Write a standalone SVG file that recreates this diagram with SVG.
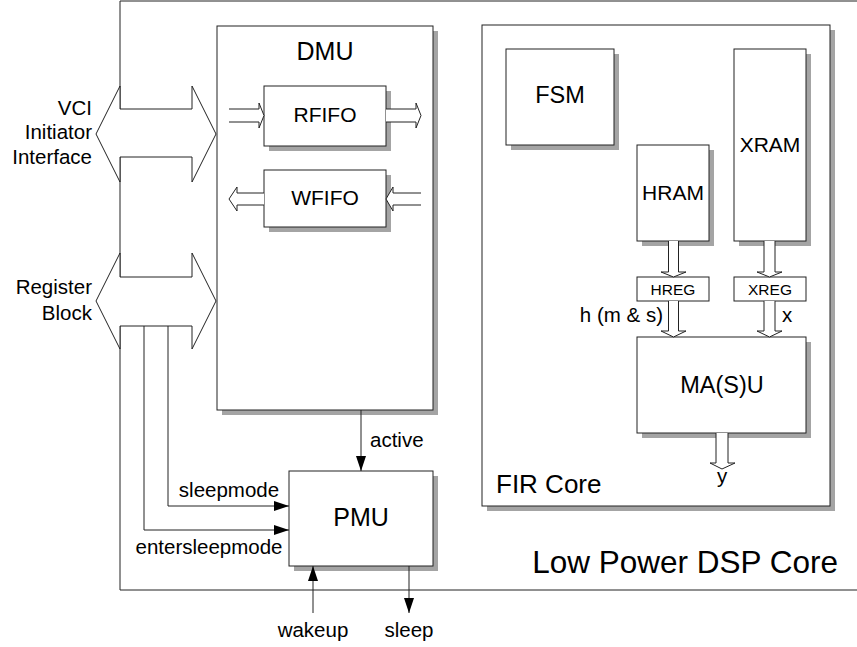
<svg xmlns="http://www.w3.org/2000/svg" width="857" height="647" viewBox="0 0 857 647">
<style>
text{font-family:"Liberation Sans",Arial,sans-serif;fill:#000}
.box{fill:#fff;stroke:#222;stroke-width:1}
.sh{fill:#a4a4a4}
.ln{fill:none;stroke:#222;stroke-width:1}
.ha{fill:#fff;stroke:#222;stroke-width:1}
.lbl{font-size:20.5px}
.c{text-anchor:middle}
</style>
<defs>
<marker id="ah" markerUnits="userSpaceOnUse" markerWidth="16" markerHeight="12" refX="15" refY="5" orient="auto">
<path d="M0,0 L15,5 L0,10 z" fill="#000"/>
</marker>
</defs>
<rect width="857" height="647" fill="#fff"/>

<g id="lowpower">
<path class="ln" d="M857,1 H120 V110 M120,157 V277 M120,326 V590 H857"/>
<text x="838" y="573" font-size="31.5" text-anchor="end">Low Power DSP Core</text>
</g>

<g id="vci">
<polygon class="ha" points="96,134 120,86 120,109 192,109 192,86 216,134 192,182 192,157 120,157 120,182"/>
<text class="lbl" x="92" y="115" text-anchor="end">VCI</text>
<text class="lbl" x="92" y="139" text-anchor="end">Initiator</text>
<text class="lbl" x="92" y="164" text-anchor="end">Interface</text>
</g>

<g id="regblock">
<polygon class="ha" points="96,301 120,253 120,277 192,277 192,253 216,301 192,349 192,326 120,326 120,349"/>
<text class="lbl" x="92" y="294" text-anchor="end">Register</text>
<text class="lbl" x="92" y="320" text-anchor="end">Block</text>
</g>

<g id="dmu">
<rect class="sh" x="222" y="31" width="216" height="384"/>
<rect class="box" x="217" y="26" width="216" height="384"/>
<text x="325" y="60" font-size="25" class="c">DMU</text>
</g>

<g id="rfifo">
<rect class="sh" x="269" y="91" width="122" height="60"/>
<rect class="box" x="264" y="86" width="122" height="60"/>
<text x="325" y="122" font-size="21" class="c">RFIFO</text>
</g>

<g id="wfifo">
<rect class="sh" x="269" y="175" width="122" height="57"/>
<rect class="box" x="264" y="170" width="122" height="57"/>
<text x="325" y="205" font-size="21" class="c">WFIFO</text>
</g>

<g id="pmu">
<rect class="sh" x="294" y="476" width="144" height="95"/>
<rect class="box" x="289" y="471" width="144" height="95"/>
<text x="361" y="526" font-size="25" class="c">PMU</text>
</g>

<g id="fircore">
<rect class="sh" x="487" y="30" width="348" height="481"/>
<rect class="box" x="482" y="25" width="348" height="481"/>
<text x="496" y="493" font-size="26">FIR Core</text>
</g>

<g id="fsm">
<rect class="sh" x="511" y="54" width="108" height="96"/>
<rect class="box" x="506" y="49" width="108" height="96"/>
<text x="560" y="103" font-size="23.5" class="c">FSM</text>
</g>

<g id="hram">
<rect class="sh" x="642" y="150" width="72" height="96"/>
<rect class="box" x="637" y="145" width="72" height="96"/>
<text x="673" y="200" font-size="21" class="c">HRAM</text>
</g>

<g id="xram">
<rect class="sh" x="739" y="54" width="72" height="192"/>
<rect class="box" x="734" y="49" width="72" height="192"/>
<text x="770" y="152" font-size="21" class="c">XRAM</text>
</g>

<g id="hreg">
<rect class="box" x="637" y="277" width="72" height="24"/>
<text x="673" y="295" font-size="15.5" class="c">HREG</text>
</g>

<g id="xreg">
<rect class="box" x="734" y="277" width="72" height="24"/>
<text x="770" y="295" font-size="15.5" class="c">XREG</text>
</g>

<g id="masu">
<rect class="sh" x="642" y="342" width="169" height="96"/>
<rect class="box" x="637" y="337" width="169" height="96"/>
<text x="722" y="393" font-size="23.5" class="c">MA(S)U</text>
</g>

<g id="connectors">
<!-- FIFO hollow arrows -->
<path class="ha" d="M229,109 H259 V103 L264,115.5 L259,128 V122 H229"/>
<path class="ha" d="M386,109 H416 V103 L421,115.5 L416,128 V122 H386"/>
<path class="ha" d="M264,193 H237 V187 L229,199 L237,211 V205 H264"/>
<path class="ha" d="M421,193 H393 V187 L386,199 L393,211 V205 H421"/>
<!-- FIR hollow arrows -->
<path class="ha" d="M668.5,241 V272 H661 L673.5,277 L686,272 H678.5 V241"/>
<path class="ha" d="M764,241 V272 H757 L769.5,277 L782,272 H775 V241"/>
<path class="ha" d="M668.5,301 V331 H661 L673.5,337 L686,331 H678.5 V301"/>
<path class="ha" d="M764,301 V331 H757 L769.5,337 L782,331 H775 V301"/>
<path class="ha" d="M716,433 V463 H710 L722,469 L735,463 H728 V433"/>
<!-- signal lines -->
<path class="ln" d="M168,326 V506 H289" marker-end="url(#ah)"/>
<path class="ln" d="M144,326 V530 H289" marker-end="url(#ah)"/>
<path class="ln" d="M361,410 V471" marker-end="url(#ah)"/>
<path class="ln" d="M313,613 V566" marker-end="url(#ah)"/>
<path class="ln" d="M409,566 V613" marker-end="url(#ah)"/>
<text class="lbl" x="229" y="497" text-anchor="middle">sleepmode</text>
<text class="lbl" x="209" y="554" text-anchor="middle">entersleepmode</text>
<text class="lbl" x="370" y="447">active</text>
<text class="lbl" x="313" y="637" text-anchor="middle">wakeup</text>
<text class="lbl" x="409" y="637" text-anchor="middle">sleep</text>
<text class="lbl" x="663" y="322" text-anchor="end">h (m &amp; s)</text>
<text class="lbl" x="782" y="322">x</text>
<text class="lbl" x="722" y="483" text-anchor="middle">y</text>
</g>
</svg>
